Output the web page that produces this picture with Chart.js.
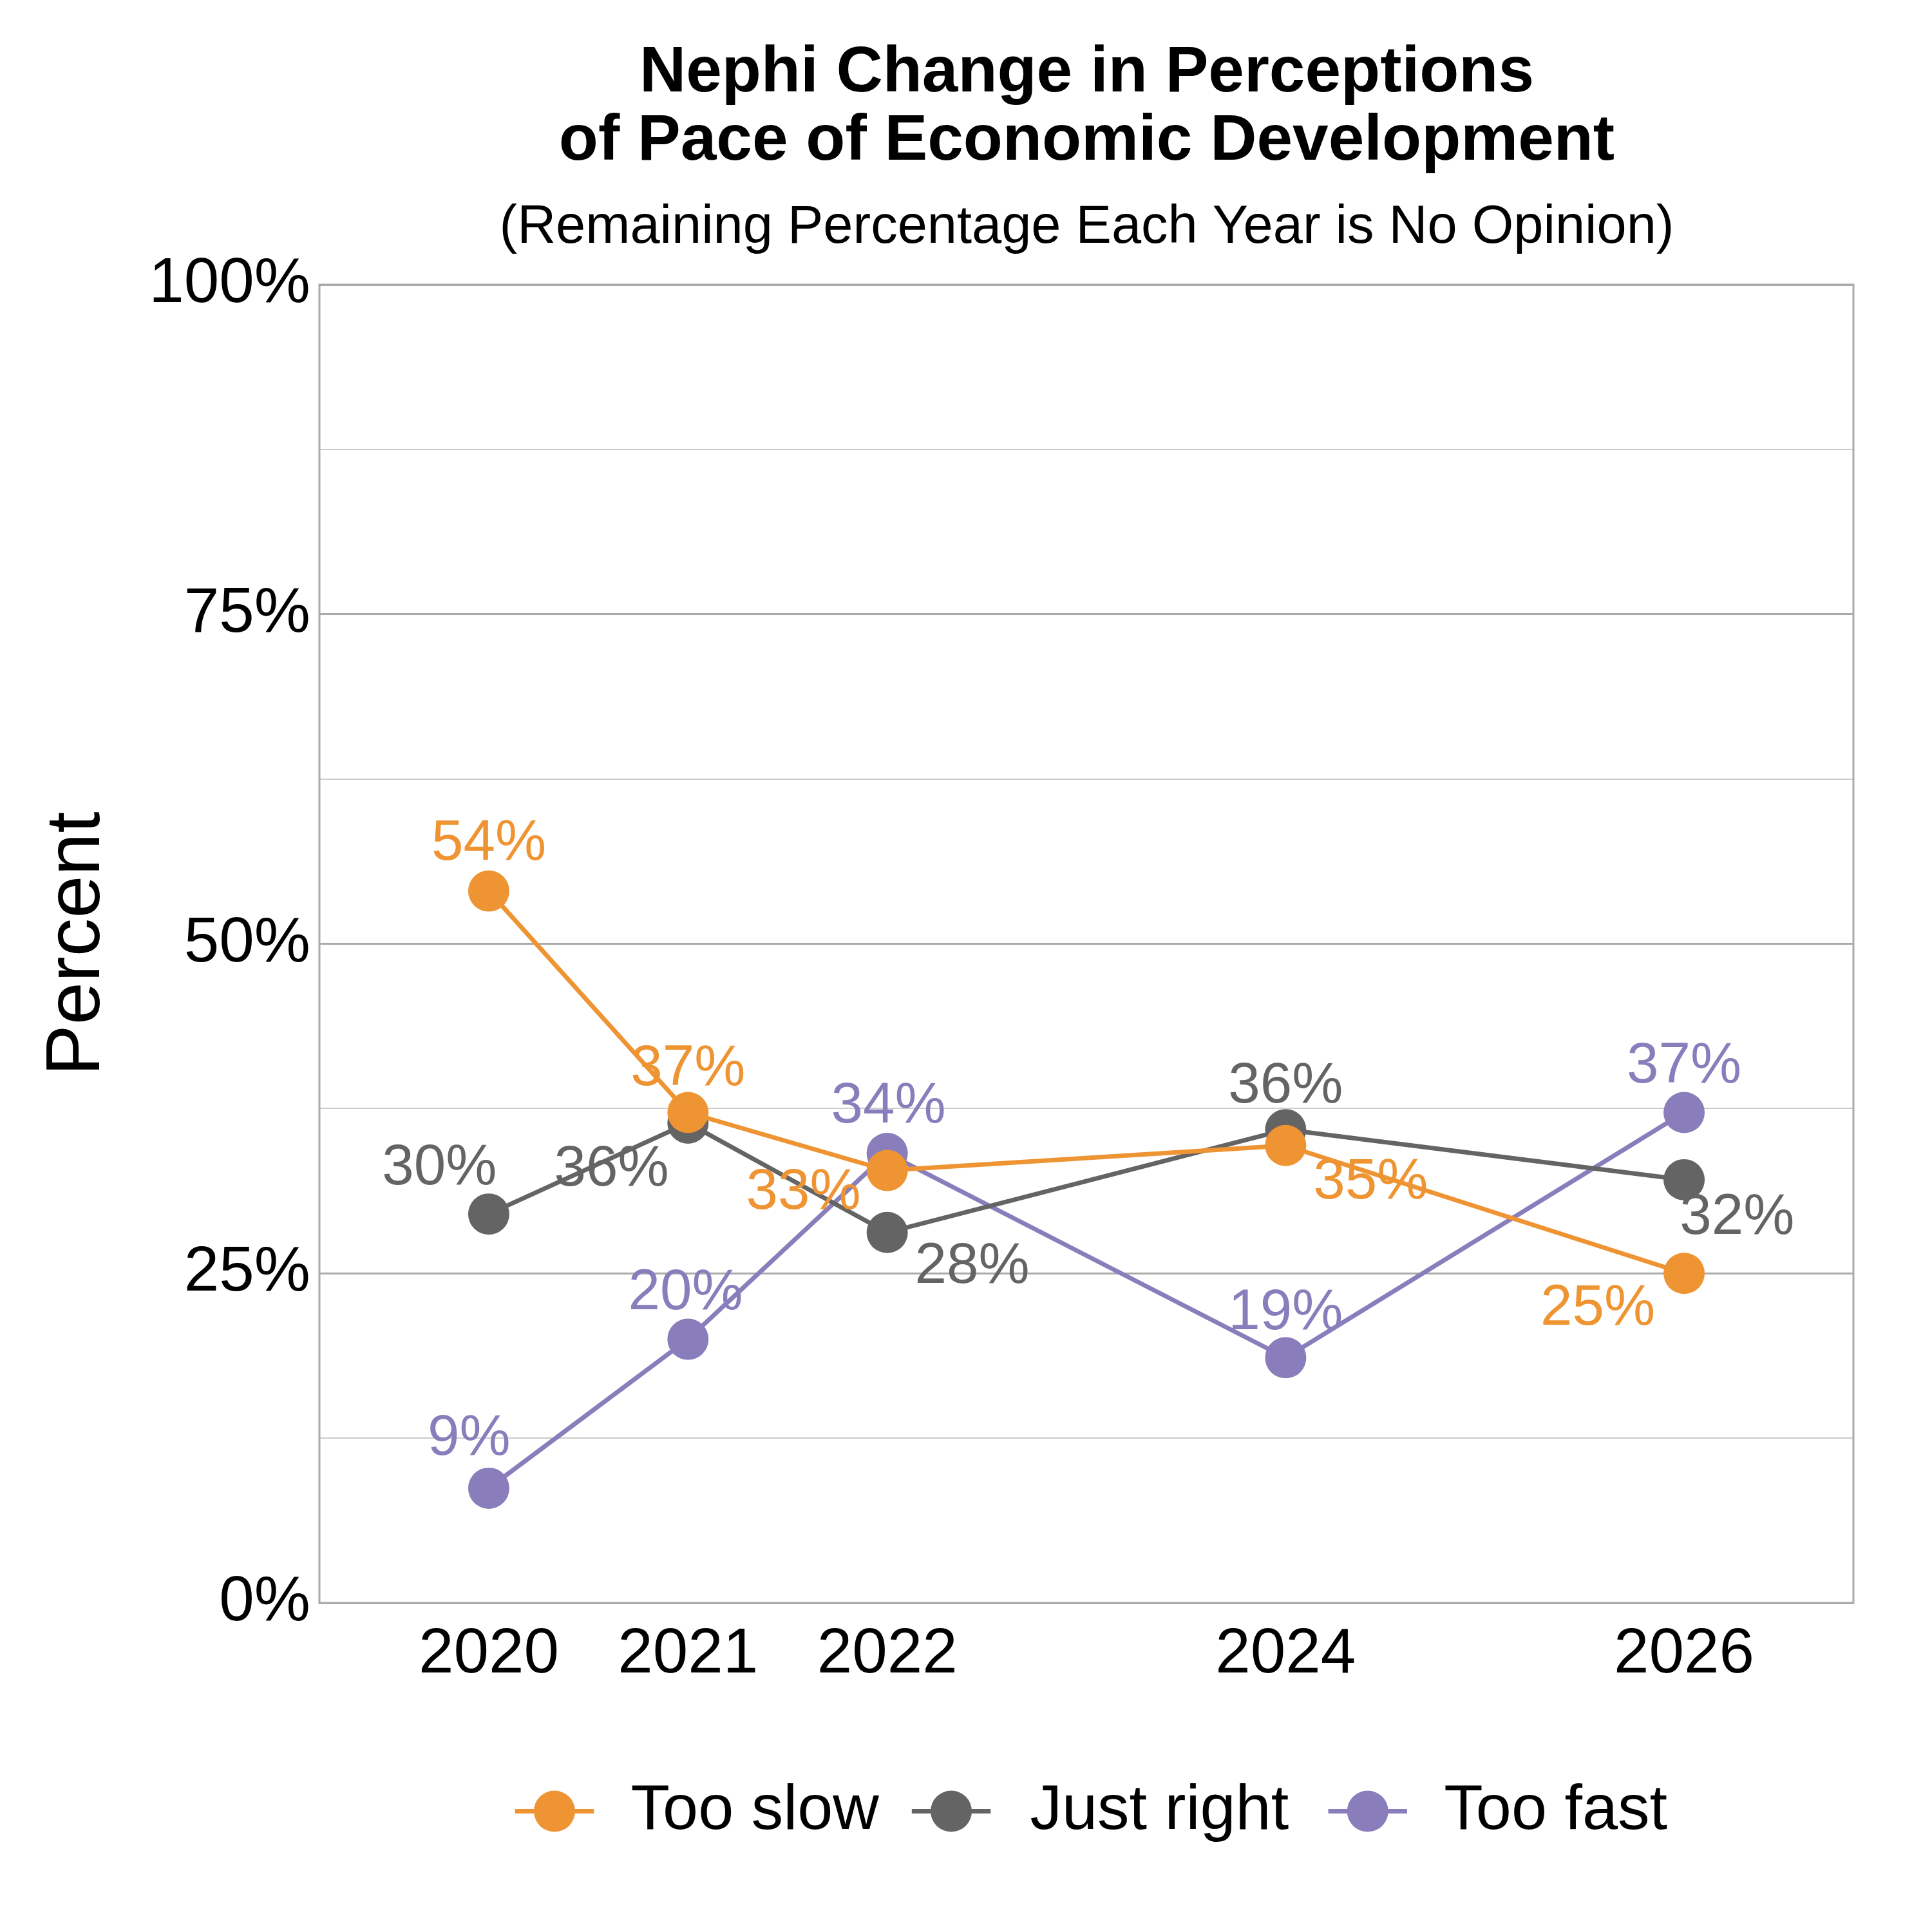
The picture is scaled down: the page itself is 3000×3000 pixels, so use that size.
<!DOCTYPE html>
<html><head><meta charset="utf-8">
<script src="https://cdn.jsdelivr.net/npm/chart.js@4"></script>
<style>body{margin:0;background:#fff}#w{width:3000px;height:3000px}</style>
</head><body><div id="w"><canvas id="c" width="3000" height="3000"></canvas></div>
<script>
const years = [2020, 2021, 2022, 2024, 2026];
const tooSlow = [54, 37.2, 32.8, 34.7, 25];
const justRight = [29.5, 36.4, 28.1, 35.9, 32.1];
const tooFast = [8.7, 20, 34.1, 18.6, 37.2];
const seriesNames = ["Too slow", "Just right", "Too fast"];
const colors = ["#EE9432", "#646464", "#8A7DBB"];
const S = 3000/1568;
const F = '"Liberation Sans", Arial';
const offs = [
  [[0,-38],[0,-35],[-68,18],[69,30],[-70,29]],
  [[-40,-37],[-62,38],[69,28],[0,-35],[43,31]],
  [[-16,-40],[-2,-37],[1,-38],[0,-36],[0,-37]]
];
const mk = (d,i)=>({label:seriesNames[i],data:years.map((y,k)=>({x:y,y:d[k]})),borderColor:colors[i],backgroundColor:colors[i],
  borderWidth:7,pointRadius:32,pointHoverRadius:32,pointBorderWidth:0,tension:0});
const deco = {id:'deco',
  beforeDraw(ch){const c=ch.ctx;c.save();c.fillStyle='#fff';c.fillRect(0,0,ch.width,ch.height);c.restore();},
  afterDatasetsDraw(ch){
    const c=ch.ctx,a=ch.chartArea;c.save();
    c.strokeStyle='#aaaaaa';c.lineWidth=3;c.strokeRect(a.left,a.top,a.right-a.left,a.bottom-a.top);
    c.textAlign='center';c.textBaseline='middle';c.font='89px '+F;
    ch.data.datasets.forEach((ds,i)=>{const m=ch.getDatasetMeta(i);
      m.data.forEach((p,k)=>{c.fillStyle=colors[i];c.fillText(Math.round(ds.data[k].y)+'%',p.x+offs[i][k][0]*S,p.y+offs[i][k][1]*S);});});
    c.fillStyle='#000';c.font='bold 100px '+F;
    c.fillText('Nephi Change in Perceptions',882*S,60*S);
    c.fillText('of Pace of Economic Development',882*S,115*S);
    c.font='83px '+F;
    c.fillText('(Remaining Percentage Each Year is No Opinion)',882*S,185*S);
    const lx=[450,772,1110],tx=[512,836,1172],ly=1470*S;
    c.textAlign='left';c.font='99px '+F;
    for(let i=0;i<3;i++){c.strokeStyle=colors[i];c.lineWidth=7;c.beginPath();c.moveTo((lx[i]-32)*S,ly);c.lineTo((lx[i]+32)*S,ly);c.stroke();
      c.fillStyle=colors[i];c.beginPath();c.arc(lx[i]*S,ly,32,0,Math.PI*2);c.fill();
      c.fillStyle='#000';c.fillText(seriesNames[i],tx[i]*S,ly);}
    c.restore();}};
new Chart(document.getElementById('c'),{type:'line',
  data:{datasets:[mk(tooSlow,0),mk(justRight,1),mk(tooFast,2)]},
  options:{responsive:false,animation:false,devicePixelRatio:1,
    layout:{padding:{top:Math.round(231*S),right:Math.round(3000-1504*S),bottom:0,left:0}},
    plugins:{legend:{display:false},tooltip:{enabled:false}},
    scales:{
      x:{type:'linear',min:2019.15,max:2026.85,afterFit(s){s.height=Math.round(3000-1301*S);},
        afterBuildTicks(s){s.ticks=years.map(v=>({value:v}));},
        grid:{display:false},border:{display:false},
        ticks:{color:'#000',font:{size:98,family:F},padding:14,callback:v=>String(v),maxRotation:0,autoSkip:false}},
      y:{min:0,max:100,afterFit(s){s.width=Math.round(259*S);},
        ticks:{stepSize:12.5,color:'#000',font:{size:98,family:F},padding:14,
          callback:v=>(v%25===0?v+'%':'')},
        grid:{color:c=>(c.tick&&c.tick.value%25===0?'#aaaaaa':'#cccccc'),lineWidth:c=>(c.tick&&c.tick.value%25===0?3:2),drawTicks:false},
        border:{display:false},
        title:{display:true,text:'Percent',color:'#000',font:{size:119,family:F},padding:{top:50,bottom:60}}}
    }},
  plugins:[deco]});
</script></body></html>
